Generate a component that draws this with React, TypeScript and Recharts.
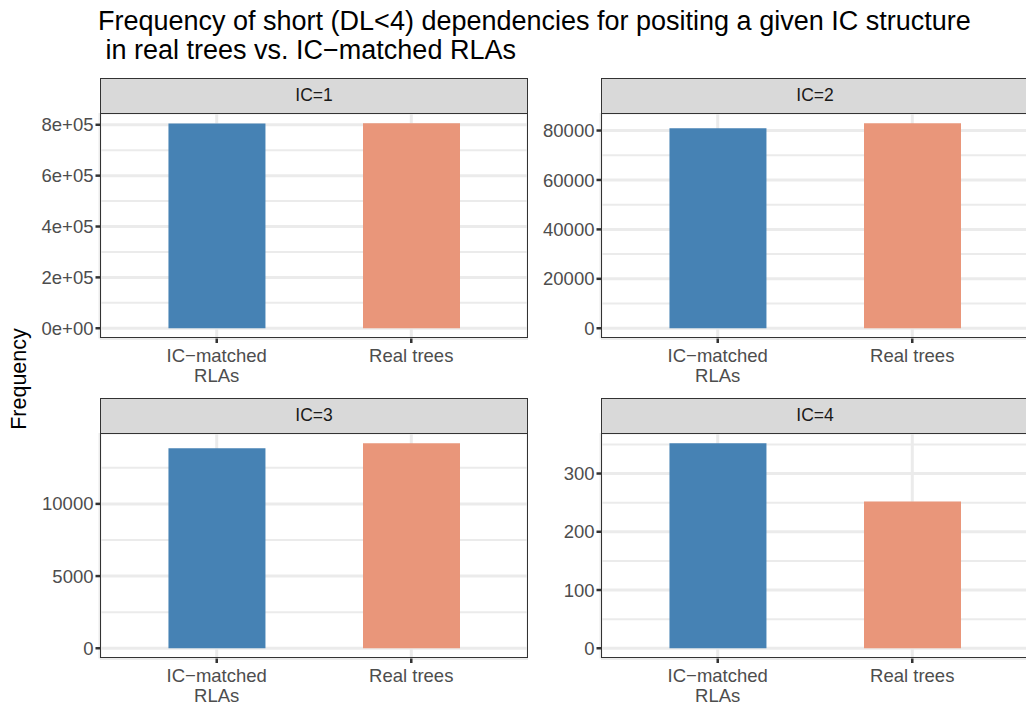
import React from 'react';
import { BarChart, Bar, Cell, XAxis, YAxis, CartesianGrid } from 'recharts';

const categories = ['IC−matched\nRLAs', 'Real trees'];
const facetLabels = ['IC=1', 'IC=2', 'IC=3', 'IC=4'];
const rlaCounts = [805000, 80900, 13850, 352];
const realCounts = [806000, 82950, 14200, 252];
const barColors = ['#4682B4', '#E9967A'];

const majorTicks = [
  [0, 200000, 400000, 600000, 800000],
  [0, 20000, 40000, 60000, 80000],
  [0, 5000, 10000],
  [0, 100, 200, 300],
];
const minorTicks = [
  [100000, 300000, 500000, 700000],
  [10000, 30000, 50000, 70000],
  [2500, 7500, 12500],
  [50, 150, 250, 350],
];

const FONT = '"Liberation Sans", Arial, Helvetica, sans-serif';
const PANEL_W = 428;
const PANEL_H = 225.5;
const STRIP_H = 34.5;
const AXIS_H = 50;
const TICK_FONT = 18.5;

// where each facet's plotting area sits on the page
const panelSpots = [
  { left: 100, top: 112.5, axisW: 100 },
  { left: 601, top: 112.5, axisW: 81 },
  { left: 100, top: 432.5, axisW: 100 },
  { left: 601, top: 432.5, axisW: 81 },
];

const sciLabel = (v: number) => {
  if (v === 0) return '0e+00';
  return v.toExponential(0).replace(/e([+-])(\d)$/, 'e$10$2');
};

const CategoryTick = (props: any) => {
  const { x, y, payload } = props;
  const lines = String(payload.value).split('\n');
  return (
    <text x={x} y={y} textAnchor="middle" fill="#4D4D4D" fontSize={TICK_FONT} fontFamily={FONT}>
      {lines.map((l, i) => (
        <tspan key={i} x={x} dy={i === 0 ? 16.5 : 20}>
          {l}
        </tspan>
      ))}
    </text>
  );
};

const Facet = ({ idx }: { idx: number }) => {
  const spot = panelSpots[idx];
  const data = categories.map((c, i) => ({
    group: c,
    count: i === 0 ? rlaCounts[idx] : realCounts[idx],
  }));
  const maxVal = Math.max(rlaCounts[idx], realCounts[idx]);
  const domain = [-0.05 * maxVal, 1.05 * maxVal];
  // recharts halves this for band axes, ggplot keeps 0.6 units each side
  const pad = 2 * (PANEL_W * 0.6 / 2.2 - PANEL_W / 4);

  return (
    <>
      <div
        style={{
          position: 'absolute',
          left: spot.left,
          top: spot.top - STRIP_H,
          width: PANEL_W,
          height: STRIP_H + 1,
          boxSizing: 'border-box',
          background: '#D9D9D9',
          border: '1.6px solid #333333',
          color: '#1A1A1A',
          fontSize: 17.5,
          fontFamily: FONT,
          display: 'flex',
          alignItems: 'center',
          justifyContent: 'center',
        }}
      >
        {facetLabels[idx]}
      </div>
      <div style={{ position: 'absolute', left: spot.left - spot.axisW, top: spot.top }}>
        <BarChart
          width={spot.axisW + PANEL_W}
          height={PANEL_H + AXIS_H}
          data={data}
          margin={{ top: 0, right: 0, bottom: 0, left: 0 }}
        >
          <CartesianGrid yAxisId="minor" vertical={false} stroke="#EBEBEB" strokeWidth={2} />
          <CartesianGrid stroke="#EBEBEB" strokeWidth={3} />
          <XAxis
            dataKey="group"
            interval={0}
            height={AXIS_H}
            padding={{ left: pad, right: pad }}
            axisLine={false}
            tickLine={{ stroke: '#333333', strokeWidth: 2.5 }}
            tickSize={4.5}
            tick={<CategoryTick />}
          />
          <YAxis
            type="number"
            width={spot.axisW}
            domain={domain}
            allowDataOverflow
            ticks={majorTicks[idx]}
            interval={0}
            tickFormatter={idx === 0 ? sciLabel : (v: number) => String(v)}
            axisLine={false}
            tickLine={{ stroke: '#333333', strokeWidth: 2.5 }}
            tickSize={4.5}
            tick={{ fill: '#4D4D4D', fontSize: TICK_FONT, fontFamily: FONT }}
          />
          <YAxis
            yAxisId="minor"
            type="number"
            hide
            domain={domain}
            allowDataOverflow
            ticks={minorTicks[idx]}
            interval={0}
          />
          <Bar dataKey="count" barSize={97} isAnimationActive={false}>
            {data.map((d, i) => (
              <Cell key={d.group} fill={barColors[i]} />
            ))}
          </Bar>
        </BarChart>
      </div>
      <div
        style={{
          position: 'absolute',
          left: spot.left,
          top: spot.top,
          width: PANEL_W,
          height: PANEL_H,
          boxSizing: 'border-box',
          border: '1.6px solid #333333',
          pointerEvents: 'none',
        }}
      />
    </>
  );
};

const App = () => {
  return (
    <div
      style={{
        position: 'absolute',
        left: 0,
        top: 0,
        width: 1026,
        height: 707,
        overflow: 'hidden',
        background: '#FFFFFF',
        fontFamily: FONT,
      }}
    >
      <div
        style={{
          position: 'absolute',
          left: 98,
          top: 7,
          fontSize: 27,
          lineHeight: '29px',
          color: '#000000',
          whiteSpace: 'pre',
        }}
      >
        {'Frequency of short (DL<4) dependencies for positing a given IC structure\n in real trees vs. IC−matched RLAs'}
      </div>
      <div
        style={{
          position: 'absolute',
          left: 19,
          top: 379,
          fontSize: 21.5,
          color: '#000000',
          whiteSpace: 'nowrap',
          transform: 'translate(-50%, -50%) rotate(-90deg)',
        }}
      >
        Frequency
      </div>
      {facetLabels.map((f, i) => (
        <Facet key={f} idx={i} />
      ))}
    </div>
  );
};

export default App;
